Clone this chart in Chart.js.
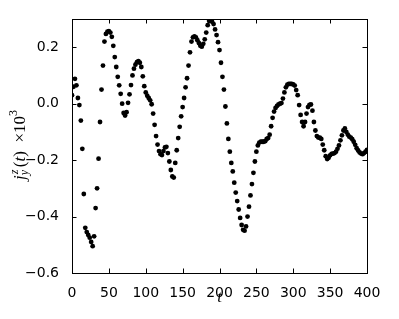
<!DOCTYPE html>
<html lang="en">
<head>
    <meta charset="UTF-8">
    <title>j_y^z(t)</title>
    <script src="https://cdn.jsdelivr.net/npm/chart.js"></script>
    <style>
        html, body { margin: 0; padding: 0; background: #fff; }
        canvas { display: block; }
    </style>
</head>
<body>
    <canvas id="myChart" width="399" height="319"></canvas>

    <script>
        // sampling step of t (units of 1e-3)
        const tStep = 2;
        const jValues = [
            0.03, 0.06, 0.088, 0.065, 0.02, -0.005, -0.06, -0.16, -0.32, -0.44,
            -0.455, -0.465, -0.475, -0.49, -0.505, -0.47, -0.37, -0.30, -0.195, -0.065,
            0.05, 0.135, 0.22, 0.247, 0.255, 0.257, 0.252, 0.237, 0.205, 0.165,
            0.13, 0.095, 0.065, 0.035, 0.0, -0.033, -0.042, -0.03, 0.003, 0.033,
            0.066, 0.10, 0.124, 0.138, 0.147, 0.151, 0.145, 0.13, 0.097, 0.062,
            0.04, 0.028, 0.02, 0.012, -0.002, -0.035, -0.075, -0.115, -0.145, -0.168,
            -0.179, -0.182, -0.168, -0.155, -0.153, -0.175, -0.205, -0.235, -0.258, -0.262,
            -0.21, -0.165, -0.122, -0.082, -0.045, -0.012, 0.02, 0.058, 0.09, 0.135,
            0.182, 0.22, 0.235, 0.238, 0.235, 0.225, 0.215, 0.205, 0.202, 0.212,
            0.228, 0.252, 0.278, 0.293, 0.296, 0.29, 0.282, 0.263, 0.243, 0.218,
            0.19, 0.145, 0.095, 0.05, -0.01, -0.07, -0.125, -0.17, -0.21, -0.24,
            -0.28, -0.315, -0.345, -0.375, -0.405, -0.43, -0.447, -0.45, -0.435, -0.40,
            -0.365, -0.325, -0.285, -0.245, -0.205, -0.17, -0.148, -0.138, -0.135, -0.135,
            -0.135, -0.133, -0.125, -0.122, -0.11, -0.08, -0.05, -0.028, -0.015, -0.008,
            -0.003, 0.0, 0.002, 0.018, 0.04, 0.058, 0.067, 0.07, 0.07, 0.07,
            0.068, 0.064, 0.048, 0.03, -0.005, -0.04, -0.065, -0.08, -0.065, -0.035,
            -0.012, -0.004, -0.003, -0.025, -0.065, -0.095, -0.115, -0.12, -0.12, -0.125,
            -0.145, -0.165, -0.186, -0.196, -0.192, -0.183, -0.178, -0.177, -0.175, -0.17,
            -0.16, -0.148, -0.13, -0.112, -0.095, -0.088, -0.1, -0.11, -0.117, -0.12,
            -0.126, -0.135, -0.146, -0.158, -0.166, -0.173, -0.177, -0.179, -0.175, -0.17,
            -0.164
        ];
        const xTicks = [0, 50, 100, 150, 200, 250, 300, 350, 400];
        const yTicks = [-0.6, -0.4, -0.2, 0.0, 0.2];

        const points = jValues.map((v, i) => ({ x: i * tStep, y: v }));

        function fmtY(v) {
            return v.toFixed(1).replace('-', '\u2212');
        }

        // box, inward ticks on all sides, axis labels
        const framePlugin = {
            id: 'frame',
            afterDraw(chart) {
                const ctx = chart.ctx;
                const a = chart.chartArea;
                const xs = chart.scales.x, ys = chart.scales.y;
                const tl = 4.5;
                ctx.save();
                ctx.strokeStyle = '#000';
                ctx.lineWidth = 1;
                ctx.beginPath();
                xTicks.forEach(t => {
                    const px = Math.round(xs.getPixelForValue(t)) + 0.5;
                    ctx.moveTo(px, a.bottom); ctx.lineTo(px, a.bottom - tl);
                    ctx.moveTo(px, a.top); ctx.lineTo(px, a.top + tl);
                });
                yTicks.forEach(t => {
                    const py = Math.round(ys.getPixelForValue(t)) + 0.5;
                    ctx.moveTo(a.left, py); ctx.lineTo(a.left + tl, py);
                    ctx.moveTo(a.right, py); ctx.lineTo(a.right - tl, py);
                });
                ctx.stroke();
                ctx.strokeRect(Math.round(a.left) + 0.5, Math.round(a.top) + 0.5,
                    Math.round(a.right - a.left), Math.round(a.bottom - a.top));

                // x label
                ctx.fillStyle = '#000';
                ctx.font = 'italic 17px "Liberation Serif"';
                ctx.textAlign = 'center';
                ctx.textBaseline = 'alphabetic';
                ctx.fillText('t', (a.left + a.right) / 2, 302);

                // y label: j_y^z (t) x10^3, rotated
                const big = '17px "Liberation Serif"';
                const bigIt = 'italic 17px "Liberation Serif"';
                const small = '12px "Liberation Serif"';
                const smallIt = 'italic 12px "Liberation Serif"';
                const parts = [
                    { s: 'j', f: bigIt, dy: 0 },
                    { s: 'y', f: smallIt, dy: 3, stack: true },
                    { s: 'z', f: smallIt, dy: -7 },
                    { s: '\u2009(', f: big, dy: 0 },
                    { s: 't', f: bigIt, dy: 0 },
                    { s: ')', f: big, dy: 0 },
                    { s: '\u2002\u00d710', f: big, dy: 0 },
                    { s: '3', f: small, dy: -8 }
                ];
                let total = 0;
                parts.forEach(p => {
                    ctx.font = p.f;
                    p.w = ctx.measureText(p.s).width;
                    if (!p.stack) total += p.w;
                });
                ctx.translate(25, 145);
                ctx.rotate(-Math.PI / 2);
                ctx.textAlign = 'left';
                let x = -total / 2;
                parts.forEach(p => {
                    ctx.font = p.f;
                    ctx.fillText(p.s, x + (p.s === 'z' ? 1 : 0), p.dy);
                    if (!p.stack) x += p.w;
                });
                ctx.restore();
            }
        };

        const ctx = document.getElementById('myChart').getContext('2d');
        window.myChart = new Chart(ctx, {
            type: 'scatter',
            data: {
                datasets: [{
                    label: 'j',
                    data: points,
                    backgroundColor: '#000',
                    borderColor: '#000',
                    pointRadius: 2.4,
                    pointBorderWidth: 0,
                    clip: 0
                }]
            },
            options: {
                responsive: false,
                animation: false,
                layout: { padding: { left: 0, top: 19, right: 32, bottom: 0 } },
                plugins: {
                    legend: { display: false },
                    tooltip: { enabled: false }
                },
                scales: {
                    x: {
                        type: 'linear',
                        min: 0,
                        max: 400,
                        grid: { display: false },
                        border: { display: false },
                        afterBuildTicks: s => { s.ticks = xTicks.map(v => ({ value: v })); },
                        afterFit: s => { s.height = 46; },
                        ticks: {
                            color: '#000',
                            padding: 4,
                            maxRotation: 0,
                            font: { family: 'DejaVu Sans', size: 14 },
                            callback: v => String(v)
                        }
                    },
                    y: {
                        type: 'linear',
                        min: -0.6,
                        max: 0.3,
                        grid: { display: false },
                        border: { display: false },
                        afterBuildTicks: s => { s.ticks = yTicks.map(v => ({ value: v })); },
                        afterFit: s => { s.width = 72; },
                        ticks: {
                            color: '#000',
                            padding: 5,
                            font: { family: 'DejaVu Sans', size: 14 },
                            callback: v => fmtY(v)
                        }
                    }
                }
            },
            plugins: [framePlugin]
        });
    </script>
</body>
</html>
